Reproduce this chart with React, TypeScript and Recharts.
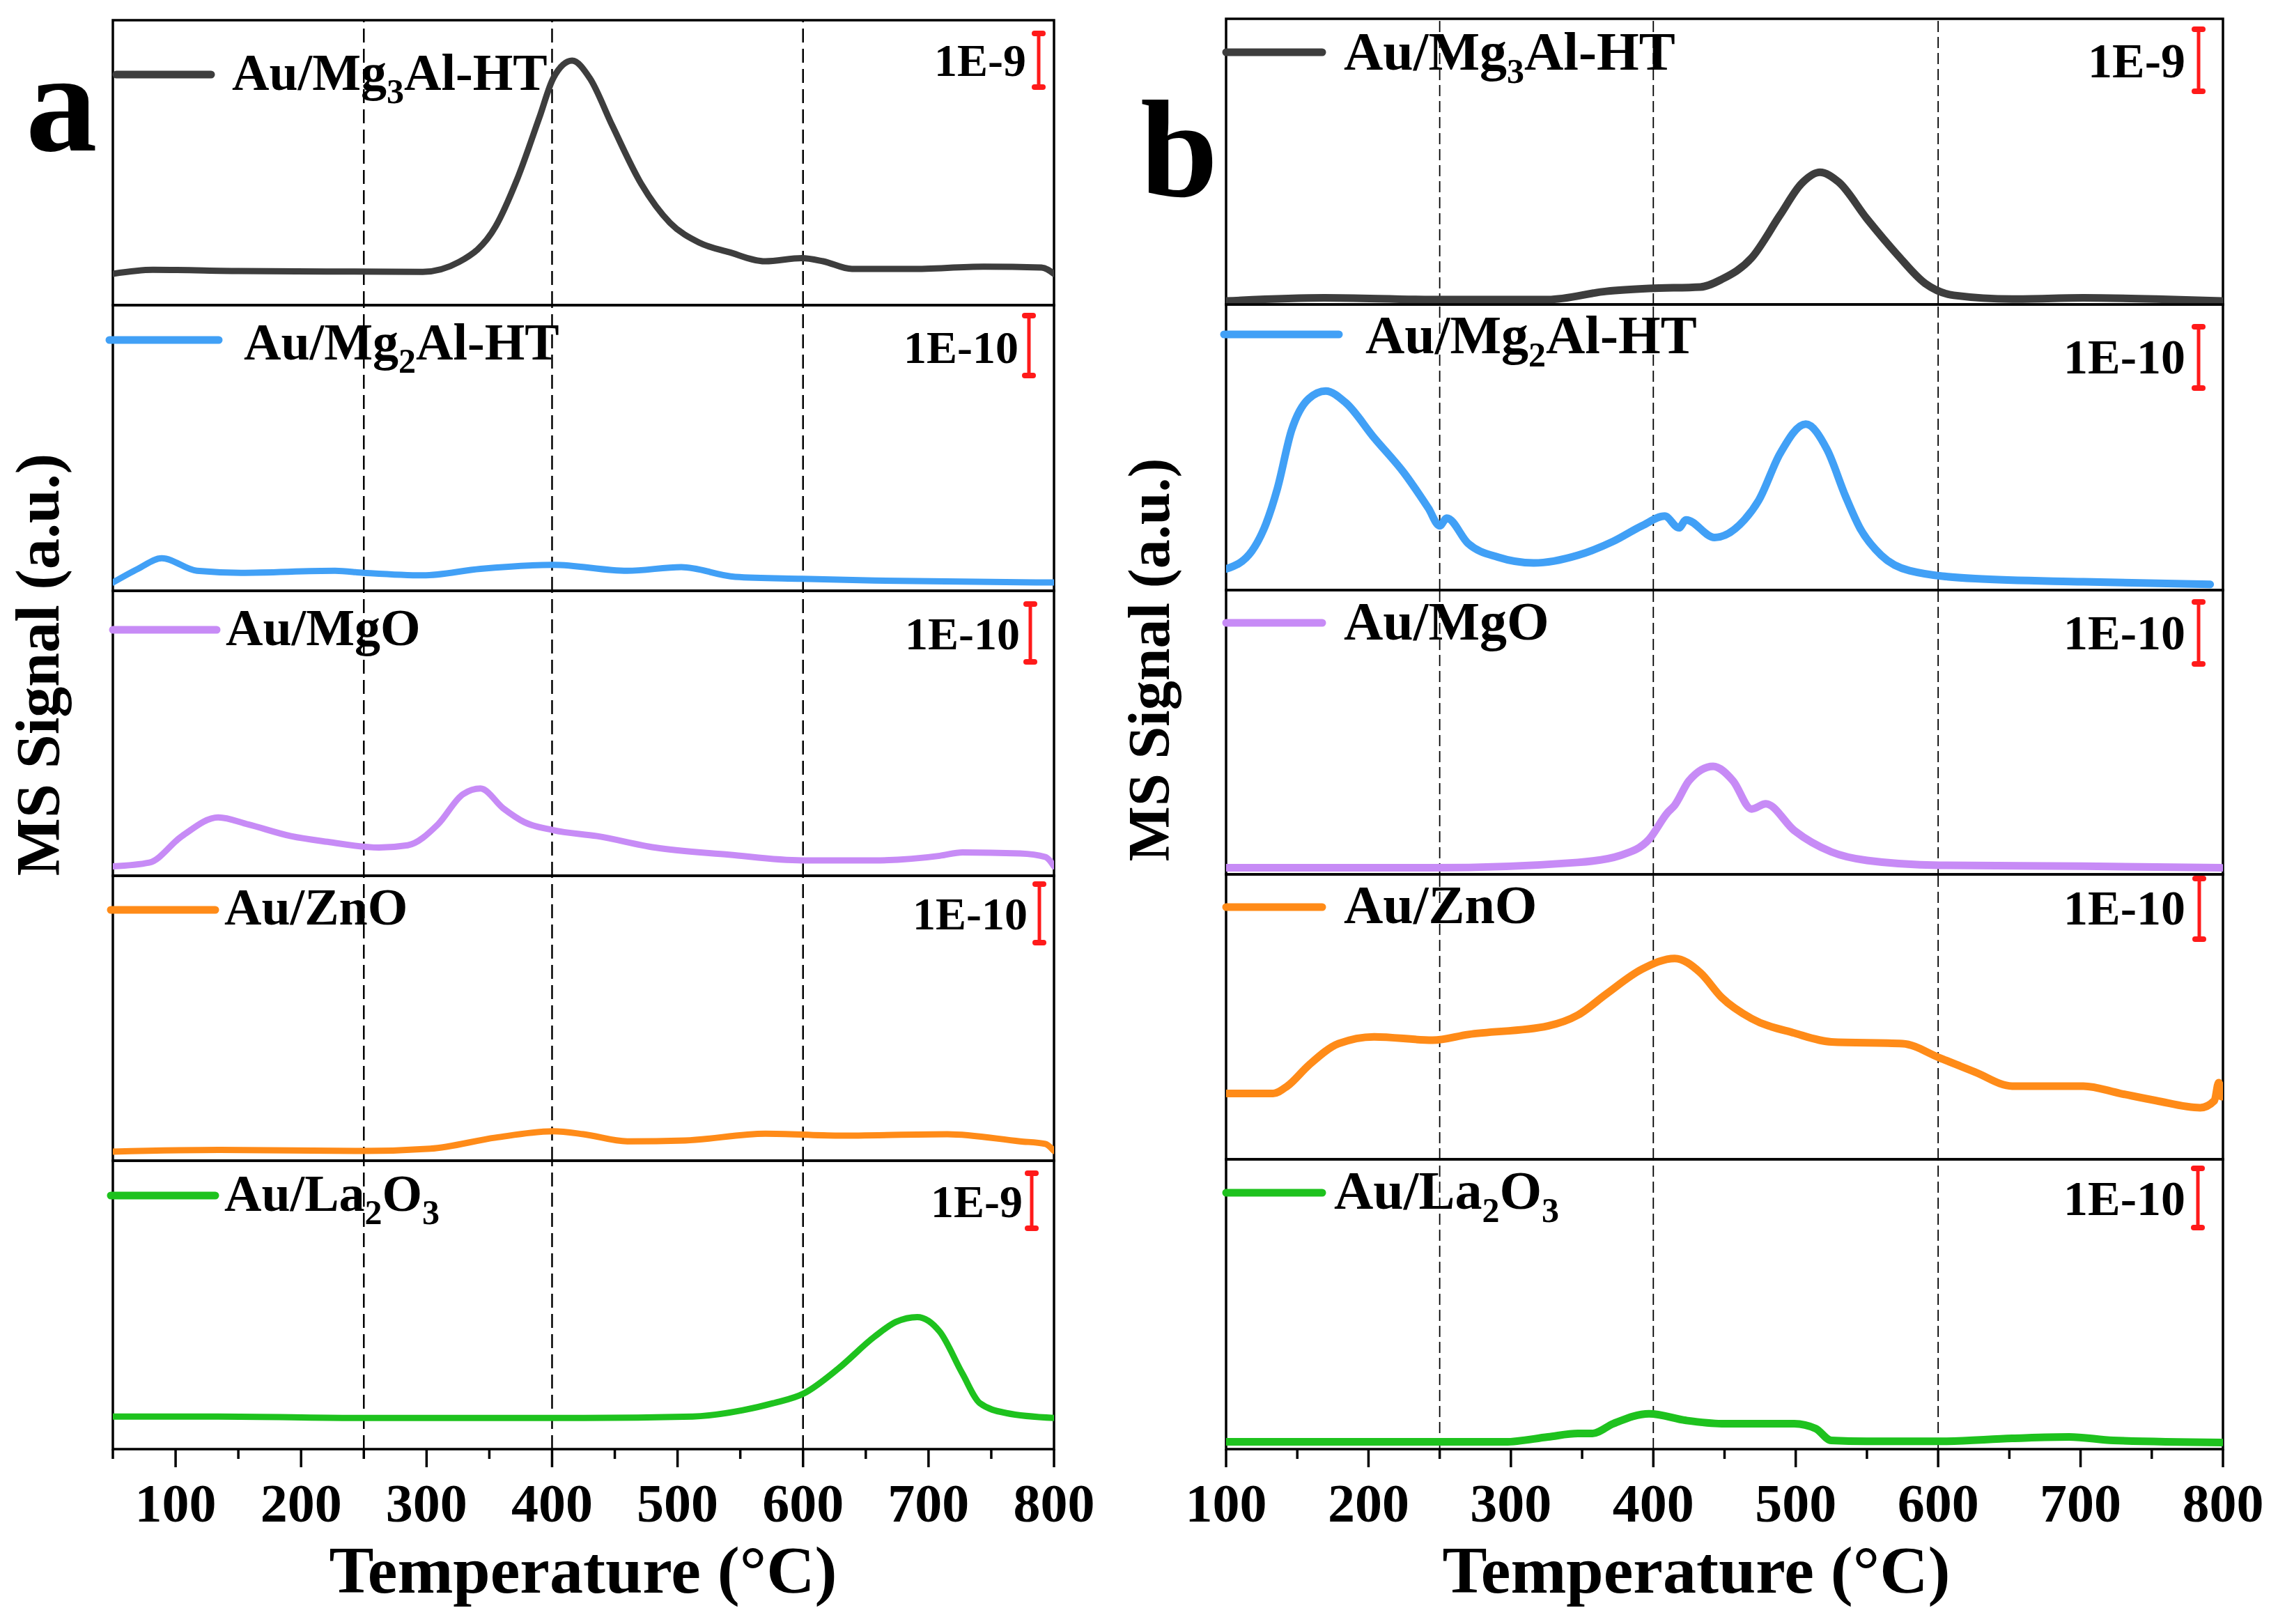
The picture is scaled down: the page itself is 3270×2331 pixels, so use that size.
import React from 'react';
import { LineChart, Line, XAxis, YAxis, ReferenceLine, ReferenceArea } from 'recharts';

// ---------- Panel a data (temperature °C, signal a.u. scaled per sub-plot) ----------
const aMg3AlT = [50, 82, 150, 220, 297, 326, 355, 372, 390, 401, 416, 430, 448, 471, 494, 517, 541, 570, 599, 616, 639, 686, 744, 790, 800];
const aMg3AlV = [11, 12.4, 12.0, 11.8, 11.7, 15.2, 27.6, 44, 66, 79.7, 85.8, 79.7, 63, 42.6, 28.9, 22, 18.6, 15.4, 16.5, 15.4, 12.7, 12.7, 13.5, 13.2, 11];

const aMg2AlT = [50, 70, 89, 117, 152, 227, 250, 297, 343, 401, 460, 503, 546, 599, 657, 800];
const aMg2AlV = [2.9, 7.7, 11.4, 7.0, 6.3, 7.0, 6.3, 5.4, 7.7, 9.1, 7.0, 8.3, 4.9, 4.2, 3.6, 2.9];

const aMgOT = [50, 79, 105, 134, 158, 192, 221, 262, 285, 309, 329, 343, 361, 378, 401, 436, 482, 541, 599, 657, 709, 727, 773, 793, 800];
const aMgOV = [3.3, 4.6, 13.9, 20.5, 18.0, 13.9, 11.9, 9.9, 10.7, 18.0, 28.6, 30.6, 23.7, 18.8, 16.0, 13.9, 9.9, 7.4, 5.4, 5.4, 7.0, 8.2, 7.8, 6.6, 3.3];

const aZnOT = [50, 134, 250, 303, 355, 401, 425, 460, 506, 570, 628, 715, 773, 793, 800];
const aZnOV = [3.2, 3.8, 3.4, 4.2, 8.1, 10.3, 9.3, 6.8, 7.1, 9.5, 8.8, 9.3, 6.8, 5.9, 3.4];

const aLa2O3T = [50, 134, 250, 425, 512, 552, 576, 601, 628, 657, 674, 691, 709, 727, 741, 762, 800];
const aLa2O3V = [11.3, 11.3, 10.8, 10.8, 11.3, 13.5, 15.9, 19.4, 27.9, 39.0, 44.1, 45.8, 40.7, 26.2, 15.9, 12.5, 10.8];

// ---------- Panel b data ----------
const bMg3AlT = [100, 169, 245, 326, 367, 397, 433, 448, 469, 489, 504, 517, 530, 550, 571, 591, 611, 652, 702, 753, 799];
const bMg3AlV = [1.2, 2.3, 1.7, 1.7, 4.6, 5.6, 6.1, 8.8, 16.3, 31.3, 42.3, 46.3, 42.9, 30.0, 17.6, 7.3, 3.2, 1.9, 2.3, 1.9, 1.2];

const bMg2AlT = [100, 118, 128, 136, 146, 158, 170, 184, 204, 225, 242, 250, 255, 270, 291, 316, 347, 372, 392, 408, 418, 423, 443, 464, 474, 489, 507, 522, 535, 545, 560, 580, 626, 702, 791];
const bMg2AlV = [7.4, 13.6, 23.2, 35.5, 56, 67, 69.7, 65.6, 53.3, 41, 28.7, 22.5, 25.2, 16.3, 11.5, 9.5, 12.2, 17.1, 22.5, 25.9, 21.8, 24.6, 18.4, 24.6, 31.4, 47.8, 58.1, 49.2, 32.8, 21.8, 12.2, 6.8, 4.0, 2.9, 2.0];

const bMgOT = [100, 245, 347, 377, 397, 410, 415, 425, 442, 456, 469, 479, 499, 525, 550, 601, 702, 799];
const bMgOV = [2.3, 2.3, 4.2, 6.7, 12.3, 21.7, 24.3, 32.9, 38, 32.9, 23, 24.8, 15.4, 7.9, 4.9, 3.2, 2.9, 2.3];

const bZnOT = [100, 133, 143, 158, 179, 204, 245, 270, 326, 347, 367, 392, 415, 433, 448, 469, 499, 525, 575, 601, 626, 652, 702, 728, 753, 784, 794, 797, 799];
const bZnOV = [23.1, 23.1, 25.7, 33, 40.6, 43, 41.8, 43.8, 46.8, 50.6, 58, 66.7, 70.5, 65.5, 56.8, 49.4, 44.3, 41.2, 40.6, 35.6, 30.6, 25.7, 25.7, 23.1, 20.6, 18.1, 20.6, 26.9, 22];

const bLa2O3T = [100, 296, 326, 347, 357, 372, 397, 423, 448, 499, 514, 525, 550, 601, 652, 692, 723, 799];
const bLa2O3V = [2.5, 2.5, 4.2, 5.4, 5.4, 8.8, 12.2, 9.9, 8.8, 8.8, 7.1, 3.0, 2.7, 2.7, 3.7, 4.2, 3.0, 2.3];

// ---------- Axis / labels ----------
const ticksA = [50, 100, 150, 200, 250, 300, 350, 400, 450, 500, 550, 600, 650, 700, 750, 800];
const ticksB = [100, 150, 200, 250, 300, 350, 400, 450, 500, 550, 600, 650, 700, 750, 800];
const guideTemps = [250, 400, 600];
const scaleLabelsA = ['1E-9', '1E-10', '1E-10', '1E-10', '1E-9'];
const scaleLabelsB = ['1E-9', '1E-10', '1E-10', '1E-10', '1E-10'];
const seriesColors = ['#3d3d3d', '#41a0f6', '#c78bf6', '#ff8b18', '#1ec21e'];

const FONT = '"Liberation Serif", "Times New Roman", serif';

const names: React.ReactNode[] = [
  <>Au/Mg<tspan dy={19} fontSize={50}>3</tspan><tspan dy={-19}>Al-HT</tspan></>,
  <>Au/Mg<tspan dy={19} fontSize={50}>2</tspan><tspan dy={-19}>Al-HT</tspan></>,
  <>Au/MgO</>,
  <>Au/ZnO</>,
  <>Au/La<tspan dy={19} fontSize={50}>2</tspan><tspan dy={-19}>O</tspan><tspan dy={19} fontSize={50}>3</tspan></>,
];

const M = 6;
const MX = 80;
const EXTRA = 150;

const axisTick = (props: any) => {
  const { x, y, payload } = props;
  const val = payload.value;
  const major = val % 100 === 0;
  return (
    <g>
      <line x1={x} x2={x} y1={y} y2={y + (major ? 26 : 14)} stroke="#000" strokeWidth={3.5} />
      {major && (
        <text x={x} y={y + 104} textAnchor="middle" fontFamily={FONT} fontWeight="bold" fontSize={78} fill="#000">
          {val}
        </text>
      )}
    </g>
  );
};

type SubProps = {
  left: number; top: number; width: number; height: number;
  domain: [number, number]; ticks: number[];
  t: number[]; v: number[]; color: string; sw: number;
  bottom: boolean; dash: string; dashW: number; dashColor: string;
};

function SubPlot(p: SubProps) {
  const data = p.t.map((x, i) => ({ t: x, v: p.v[i] }));
  const extra = p.bottom ? EXTRA : 0;
  return (
    <div style={{ position: 'absolute', left: p.left - MX, top: p.top - M }}>
      <LineChart
        width={p.width + 2 * MX}
        height={p.height + 2 * M + extra}
        data={data}
        margin={{ top: M, right: MX, bottom: M, left: MX }}
      >
        <XAxis
          dataKey="t"
          type="number"
          domain={p.domain}
          ticks={p.ticks}
          interval={0}
          allowDataOverflow
          hide={!p.bottom}
          height={p.bottom ? extra - M : 0}
          tickSize={0}
          tickMargin={0}
          axisLine={false}
          tickLine={false}
          tick={axisTick}
        />
        <YAxis type="number" domain={[0, 100]} hide allowDataOverflow />
        {guideTemps.map((g) => (
          <ReferenceLine key={g} x={g} stroke={p.dashColor} strokeWidth={p.dashW} strokeDasharray={p.dash} />
        ))}
        <Line
          type="monotone"
          dataKey="v"
          stroke={p.color}
          strokeWidth={p.sw}
          dot={false}
          isAnimationActive={false}
          strokeLinejoin="round"
          strokeLinecap="round"
        />
        <ReferenceArea
          x1={p.domain[0]}
          x2={p.domain[1]}
          y1={0}
          y2={100}
          fill="none"
          fillOpacity={0}
          stroke="#000"
          strokeWidth={3.5}
          ifOverflow="visible"
        />
      </LineChart>
    </div>
  );
}

const aLeft = 162, aRight = 1513;
const aTops = [29, 438, 848, 1257, 1666, 2074];
const bLeft = 1760, bRight = 3191;
const bTops = [27, 437, 847, 1255, 1664, 2074];

const aSeries = [
  [aMg3AlT, aMg3AlV], [aMg2AlT, aMg2AlV], [aMgOT, aMgOV], [aZnOT, aZnOV], [aLa2O3T, aLa2O3V],
];
const bSeries = [
  [bMg3AlT, bMg3AlV], [bMg2AlT, bMg2AlV], [bMgOT, bMgOV], [bZnOT, bZnOV], [bLa2O3T, bLa2O3V],
];

// legend layout: [lineX1, lineX2, lineY, textX, baseline]
const legA = [
  [167, 303, 107, 333, 129],
  [157, 314, 488, 350, 516],
  [162, 311, 904, 324, 926],
  [159, 309, 1306, 322, 1327],
  [159, 309, 1716, 322, 1738],
];
const legB = [
  [1760, 1898, 75, 1929, 100],
  [1757, 1922, 480, 1960, 507],
  [1760, 1898, 894, 1929, 918],
  [1760, 1898, 1302, 1929, 1325],
  [1760, 1898, 1712, 1915, 1735],
];
// scale bar layout: [barX, y1, y2, textRight, baseline]
const barA = [
  [1491, 48, 125, 1473, 109],
  [1477, 453, 539, 1462, 521],
  [1479, 867, 950, 1464, 932],
  [1492, 1269, 1353, 1475, 1334],
  [1481, 1684, 1763, 1468, 1747],
];
const barB = [
  [3156, 42, 131, 3137, 111],
  [3156, 469, 557, 3137, 536],
  [3156, 864, 953, 3137, 932],
  [3157, 1261, 1348, 3137, 1327],
  [3155, 1677, 1762, 3137, 1744],
];

function Decor({ leg, bar, labels, legSize, barSize }: any) {
  return (
    <>
      {leg.map((l: number[], i: number) => (
        <g key={'l' + i}>
          <line x1={l[0]} x2={l[1]} y1={l[2]} y2={l[2]} stroke={seriesColors[i]} strokeWidth={11} strokeLinecap="round" />
          <text x={l[3]} y={l[4]} fontFamily={FONT} fontWeight="bold" fontSize={legSize} fill="#000">
            {names[i]}
          </text>
        </g>
      ))}
      {bar.map((b: number[], i: number) => (
        <g key={'b' + i}>
          <line x1={b[0]} x2={b[0]} y1={b[1]} y2={b[2]} stroke="#ff1a1a" strokeWidth={5} />
          <rect x={b[0] - 10} y={b[1] - 4} width={20} height={8} rx={4} fill="#ff1a1a" />
          <rect x={b[0] - 10} y={b[2] - 4} width={20} height={8} rx={4} fill="#ff1a1a" />
          <text x={b[3]} y={b[4]} textAnchor="end" fontFamily={FONT} fontWeight="bold" fontSize={barSize} fill="#000">
            {labels[i]}
          </text>
        </g>
      ))}
    </>
  );
}

export default function App() {
  return (
    <div style={{ position: 'absolute', left: 0, top: 0, width: 3270, height: 2331, background: '#fff', overflow: 'hidden' }}>
      {aSeries.map((s, i) => (
        <SubPlot
          key={'a' + i}
          left={aLeft}
          top={aTops[i]}
          width={aRight - aLeft}
          height={aTops[i + 1] - aTops[i]}
          domain={[50, 800]}
          ticks={ticksA}
          t={s[0]}
          v={s[1]}
          color={seriesColors[i]}
          sw={9}
          bottom={i === 4}
          dash="20 9"
          dashW={2.5}
          dashColor="#000"
        />
      ))}
      {bSeries.map((s, i) => (
        <SubPlot
          key={'b' + i}
          left={bLeft}
          top={bTops[i]}
          width={bRight - bLeft}
          height={bTops[i + 1] - bTops[i]}
          domain={[100, 800]}
          ticks={ticksB}
          t={s[0]}
          v={s[1]}
          color={seriesColors[i]}
          sw={11}
          bottom={i === 4}
          dash="16 7"
          dashW={1.8}
          dashColor="#000"
        />
      ))}
      <svg width={3270} height={2331} style={{ position: 'absolute', left: 0, top: 0, pointerEvents: 'none' }}>
        <Decor leg={legA} bar={barA} labels={scaleLabelsA} legSize={74} barSize={66} />
        <Decor leg={legB} bar={barB} labels={scaleLabelsB} legSize={78} barSize={70} />
        <text x={37} y={216} fontFamily={FONT} fontWeight="bold" fontSize={205} fill="#000">a</text>
        <text x={1637} y={281} fontFamily={FONT} fontWeight="bold" fontSize={200} fill="#000">b</text>
        <text x={837} y={2286} textAnchor="middle" fontFamily={FONT} fontWeight="bold" fontSize={96} fill="#000">Temperature (°C)</text>
        <text x={2435} y={2286} textAnchor="middle" fontFamily={FONT} fontWeight="bold" fontSize={96} fill="#000">Temperature (°C)</text>
        <text x={84} y={954} transform="rotate(-90 84 954)" textAnchor="middle" fontFamily={FONT} fontWeight="bold" fontSize={88} fill="#000">MS Signal (a.u.)</text>
        <text x={1678} y={947} transform="rotate(-90 1678 947)" textAnchor="middle" fontFamily={FONT} fontWeight="bold" fontSize={84} fill="#000">MS Signal (a.u.)</text>
      </svg>
    </div>
  );
}
